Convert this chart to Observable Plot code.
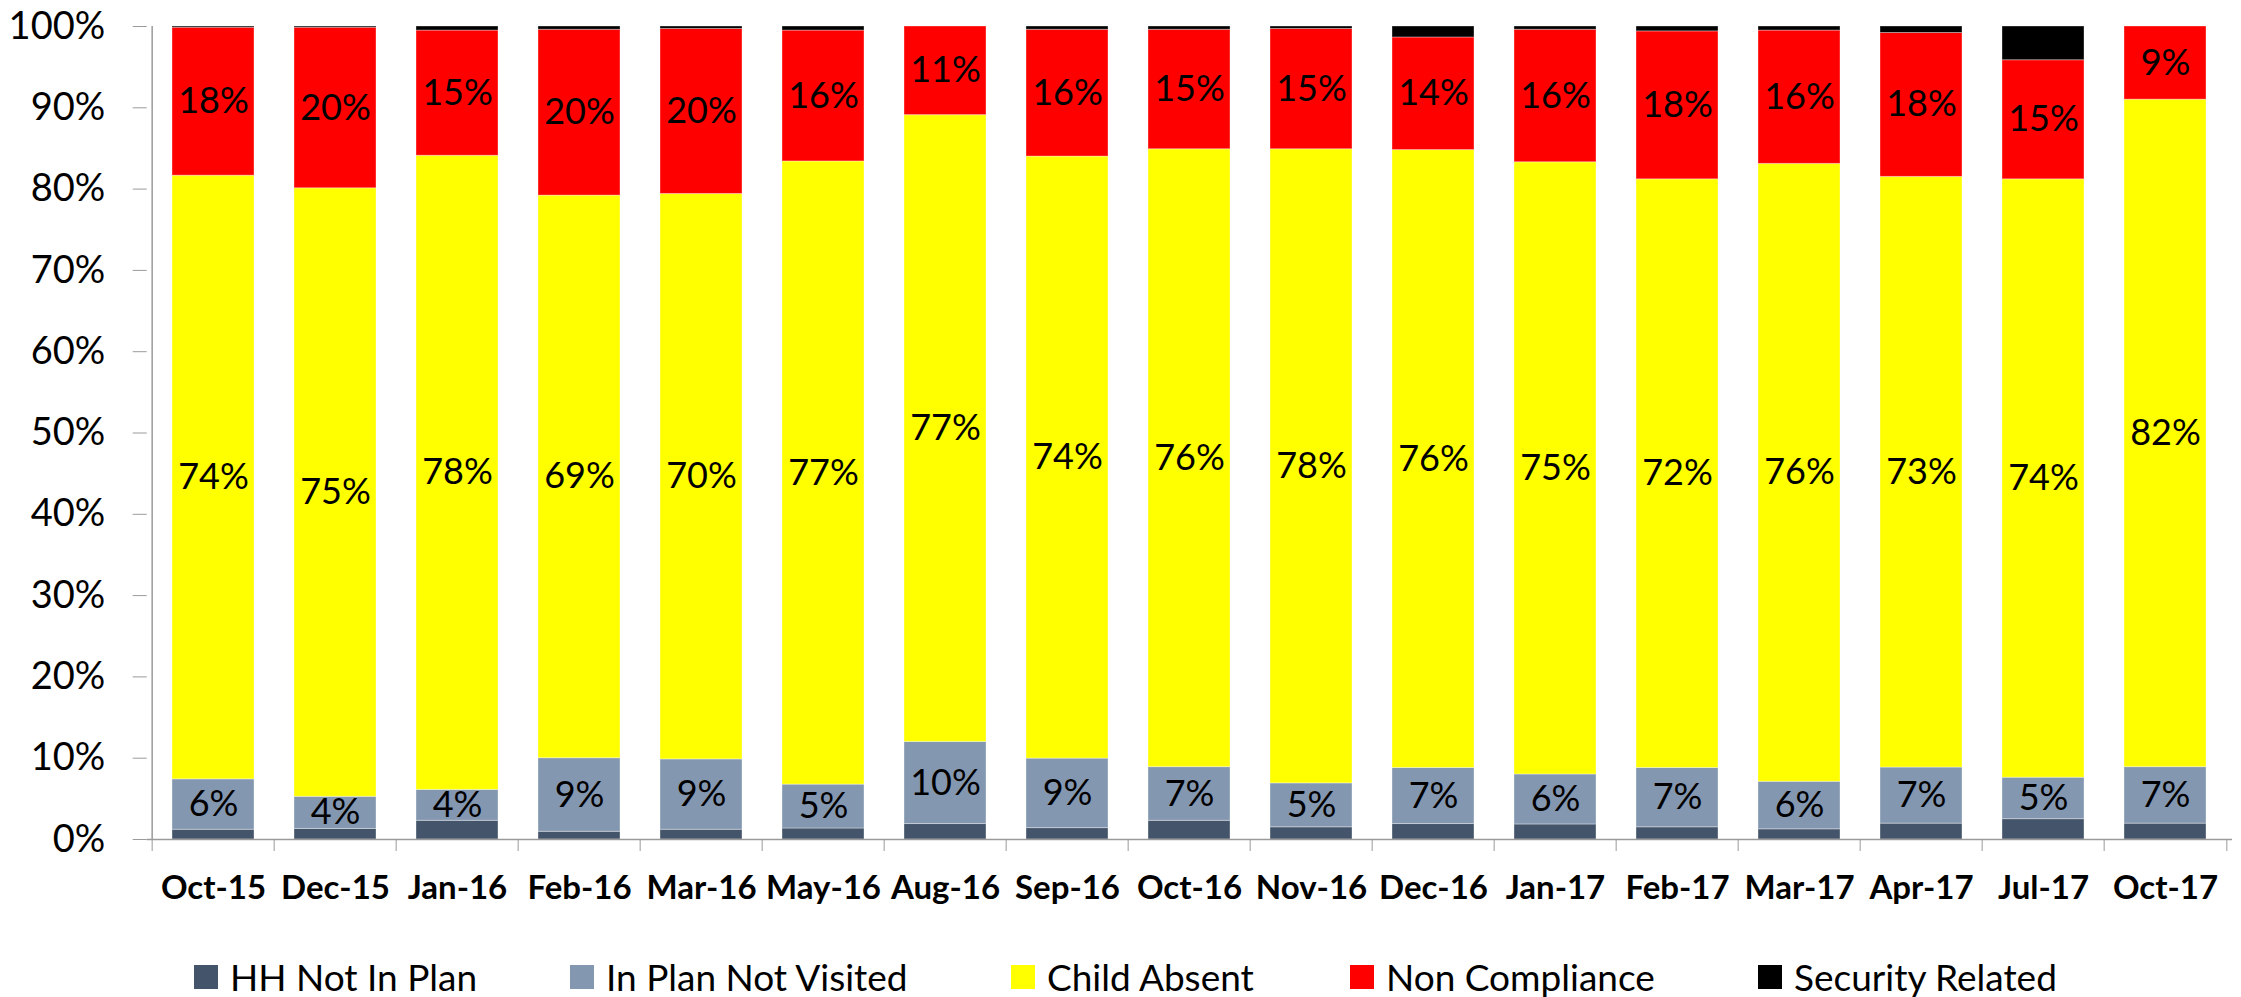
<!DOCTYPE html>
<html>
<head>
<meta charset="utf-8">
<script src="https://cdn.jsdelivr.net/npm/d3@7"></script>
<script src="https://cdn.jsdelivr.net/npm/@observablehq/plot@0.6"></script>
<style>
  html, body { margin: 0; padding: 0; background: #fff; }
  #chart svg { display: block; }
  #legend { height: 77px; display: flex; align-items: center; padding-top: 36px; padding-left: 194px; box-sizing: border-box; font-family: Lato, "Open Sans", sans-serif; font-size: 37px; color: #000; }
  .item { display: flex; align-items: center; white-space: nowrap; }
  .sw { width: 24px; height: 24px; margin-right: 12px; flex: none; }
</style>
</head>
<body>
<div id="chart"></div>
<div id="legend"></div>
<script>
const categories = ["Oct-15","Dec-15","Jan-16","Feb-16","Mar-16","May-16","Aug-16","Sep-16","Oct-16","Nov-16","Dec-16","Jan-17","Feb-17","Mar-17","Apr-17","Jul-17","Oct-17"];
const seriesNames = ["HH Not In Plan","In Plan Not Visited","Child Absent","Non Compliance","Security Related"];
const seriesColors = ["#44546A","#8497B0","#FFFF00","#FF0000","#000000"];
const hhNotInPlan      = [1.2, 1.3, 2.3, 0.95, 1.2, 1.35, 1.9, 1.4, 2.3, 1.5, 1.9, 1.85, 1.5, 1.25, 1.95, 2.5, 1.95];
const inPlanNotVisited = [6.2, 3.95, 3.8, 9.05, 8.65, 5.4, 10.1, 8.55, 6.6, 5.4, 6.9, 6.15, 7.3, 5.85, 6.9, 5.1, 6.95];
const childAbsent      = [74.25, 74.85, 78.0, 69.2, 69.55, 76.65, 77.1, 74.05, 76.0, 78.0, 76.0, 75.3, 72.4, 76.0, 72.65, 73.6, 82.1];
const nonCompliance    = [18.2, 19.75, 15.4, 20.4, 20.3, 16.1, 10.9, 15.6, 14.7, 14.8, 13.85, 16.3, 18.2, 16.4, 17.7, 14.65, 9.0];
const securityRelated  = [0.15, 0.15, 0.5, 0.4, 0.3, 0.5, 0, 0.4, 0.4, 0.3, 1.35, 0.4, 0.6, 0.5, 0.8, 4.15, 0];
const yTicks = [0,10,20,30,40,50,60,70,80,90,100];
const labeledSeries = new Set(["In Plan Not Visited","Child Absent","Non Compliance"]);

const seriesValues = [hhNotInPlan, inPlanNotVisited, childAbsent, nonCompliance, securityRelated];
const data = [];
categories.forEach((c, i) => {
  seriesNames.forEach((s, j) => data.push({category: c, series: s, value: seriesValues[j][i]}));
});

const W = 2241, H = 920;
const ml = 146.7, mr = 9, mt = 26, mb = 81;
const step = (W - ml - mr) / categories.length;
const axisColor = "#9a9a9a";

const chart = Plot.plot({
  width: W, height: H,
  marginLeft: ml, marginRight: mr, marginTop: mt, marginBottom: mb,
  style: {fontFamily: "Lato, 'Open Sans', sans-serif", background: "white", color: "black", overflow: "visible"},
  x: {domain: categories, paddingInner: 0.33, paddingOuter: 0.165, label: null},
  y: {domain: [0, 100], label: null},
  color: {domain: seriesNames, range: seriesColors},
  marks: [
    Plot.barY(data, {x: "category", y: "value", fill: "series", z: "series", order: seriesNames, stroke: "white", strokeOpacity: 0.35, strokeWidth: 1}),
    Plot.text(data, Plot.stackY({x: "category", y: "value", z: "series", order: seriesNames,
      text: d => labeledSeries.has(d.series) ? Math.round(d.value) + "%" : null,
      fontSize: 36, fill: "black"})),
    Plot.ruleY([0], {stroke: axisColor, strokeWidth: 1.5}),
    Plot.ruleX([categories[0]], {y1: 0, y2: 100, dx: -step / 2, stroke: axisColor, strokeWidth: 1.5}),
    Plot.axisY({ticks: yTicks, tickFormat: d => d + "%", tickSize: 14, tickPadding: 28, fontSize: 38, stroke: axisColor, fill: "black"}),
    Plot.axisX({tickSize: 0, tickPadding: 36, fontSize: 33, fontWeight: "bold", fill: "black"}),
    Plot.axisX({tickSize: 12, tickFormat: () => "", dx: -step / 2, stroke: axisColor}),
    Plot.axisX({ticks: [categories[categories.length - 1]], tickSize: 12, tickFormat: () => "", dx: step / 2, stroke: axisColor})
  ]
});
document.getElementById("chart").appendChild(chart);

const itemWidths = [376, 441, 339, 408, null];
const legend = document.getElementById("legend");
seriesNames.forEach((s, i) => {
  const item = document.createElement("div");
  item.className = "item";
  if (itemWidths[i]) item.style.width = itemWidths[i] + "px";
  const sw = document.createElement("span");
  sw.className = "sw";
  sw.style.background = seriesColors[i];
  const t = document.createElement("span");
  t.textContent = s;
  item.appendChild(sw);
  item.appendChild(t);
  legend.appendChild(item);
});
</script>
</body>
</html>
